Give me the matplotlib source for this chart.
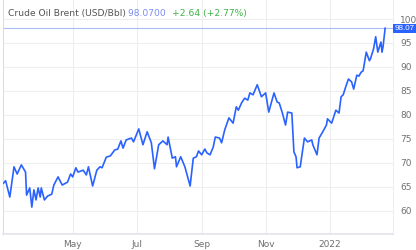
import matplotlib.pyplot as plt
import matplotlib.dates as mdates
import pandas as pd

# Brent crude, daily-ish closes
dates = [
    "2021-02-24", "2021-02-26", "2021-03-02", "2021-03-06", "2021-03-09", "2021-03-13",
    "2021-03-17", "2021-03-18", "2021-03-21", "2021-03-23", "2021-03-25", "2021-03-27",
    "2021-03-29", "2021-03-31", "2021-04-01", "2021-04-04", "2021-04-07", "2021-04-11",
    "2021-04-13", "2021-04-17", "2021-04-21", "2021-04-26", "2021-04-29", "2021-05-01",
    "2021-05-04", "2021-05-06", "2021-05-11", "2021-05-14", "2021-05-16", "2021-05-20",
    "2021-05-24", "2021-05-27", "2021-05-29", "2021-06-02", "2021-06-06", "2021-06-10",
    "2021-06-13", "2021-06-16", "2021-06-18", "2021-06-21", "2021-06-26", "2021-06-28",
    "2021-07-03", "2021-07-07", "2021-07-11", "2021-07-15", "2021-07-18", "2021-07-22",
    "2021-07-26", "2021-07-30", "2021-07-31", "2021-08-04", "2021-08-07", "2021-08-08",
    "2021-08-12", "2021-08-16", "2021-08-21", "2021-08-24", "2021-08-27", "2021-08-29",
    "2021-09-01", "2021-09-04", "2021-09-06", "2021-09-09", "2021-09-12", "2021-09-14",
    "2021-09-18", "2021-09-20", "2021-09-23", "2021-09-27", "2021-10-01", "2021-10-04",
    "2021-10-06", "2021-10-09", "2021-10-12", "2021-10-15", "2021-10-17", "2021-10-20",
    "2021-10-24", "2021-10-28", "2021-11-01", "2021-11-04", "2021-11-09", "2021-11-12",
    "2021-11-14", "2021-11-17", "2021-11-20", "2021-11-22", "2021-11-26", "2021-11-28",
    "2021-11-30", "2021-12-01", "2021-12-04", "2021-12-08", "2021-12-11", "2021-12-15",
    "2021-12-16", "2021-12-20", "2021-12-22", "2021-12-25", "2021-12-29", "2021-12-30",
    "2022-01-03", "2022-01-07", "2022-01-10", "2022-01-12", "2022-01-14", "2022-01-16",
    "2022-01-19", "2022-01-22", "2022-01-24", "2022-01-27", "2022-01-29", "2022-01-31",
    "2022-02-02", "2022-02-05", "2022-02-08", "2022-02-09", "2022-02-12", "2022-02-14",
    "2022-02-16", "2022-02-19", "2022-02-20", "2022-02-21", "2022-02-23",
]
prices = [
    65.8, 66.3, 62.9, 69.2, 67.7, 69.6,
    68.1, 63.3, 64.8, 60.8, 64.4, 62.3,
    64.8, 62.9, 64.8, 62.3, 63.1, 63.5,
    65.4, 67.1, 65.4, 66.0, 67.7, 67.1,
    69.0, 68.1, 68.5, 67.5, 69.2, 65.2,
    68.5, 69.2, 69.0, 71.2, 71.5, 72.7,
    72.9, 74.6, 73.1, 74.8, 75.2, 74.4,
    77.1, 73.8, 76.5, 74.2, 68.8, 73.8,
    74.6, 73.8, 75.4, 71.0, 71.3, 69.2,
    71.3, 69.2, 65.2, 71.0, 71.3, 72.5,
    71.7, 72.9, 72.1, 71.7, 73.3, 75.4,
    75.2, 74.2, 76.9, 79.4, 78.3, 81.7,
    81.0, 82.5, 83.5, 83.1, 84.6, 84.2,
    86.3, 83.8, 84.6, 80.6, 84.6, 82.7,
    82.5, 80.4, 77.9, 80.6, 80.4, 72.3,
    71.3, 69.0, 69.2, 75.2, 74.4, 74.8,
    73.8, 71.7, 75.2, 76.3, 77.9, 79.2,
    78.3, 81.0, 80.4, 83.8, 84.2, 85.6,
    87.5, 86.9, 85.4, 88.3, 88.1, 88.9,
    89.2, 93.1, 91.3, 91.7, 93.8, 96.3,
    93.1, 95.2, 93.1, 94.2, 98.07,
]
last_price = 98.07
change = 2.64
change_pct = 2.77
yticks = [60, 65, 70, 75, 80, 85, 90, 95, 100]

x = pd.to_datetime(dates)

fig = plt.figure(figsize=(4.16, 2.5), dpi=100)
ax = fig.add_axes([0.0072, 0.064, 0.9375, 0.936])

ax.plot(x, prices, color="#2962ff", lw=1.2, zorder=3)
ax.axhline(last_price, color="#a9bcf5", lw=0.8, zorder=2)

ax.set_xlim(pd.Timestamp("2021-02-23 12:00"), pd.Timestamp("2022-03-02 12:00"))
ax.set_ylim(55.2, 103.96)

# month ticks, year label on January
ax.xaxis.set_major_locator(mdates.MonthLocator(bymonth=[1, 5, 7, 9, 11]))
ax.xaxis.set_major_formatter(mdates.ConciseDateFormatter(
    ax.xaxis.get_major_locator(), formats=["%Y", "%b", "%d", "%H:%M", "%H:%M", "%S.%f"]))
ax.xaxis.get_major_formatter().offset_string = ""
ax.set_yticks(yticks)
ax.yaxis.tick_right()

ax.grid(True, color="#eeeeee", lw=0.8)
ax.tick_params(axis="both", length=0, labelsize=6.5, labelcolor="#707070")
ax.tick_params(axis="y", pad=5)
ax.tick_params(axis="x", pad=4)
ax.spines["top"].set_visible(False)
ax.spines["left"].set_color("#dddddd")
ax.spines["bottom"].set_color("#e3e3ea")
ax.spines["right"].set_color("#eeeeee")
ax.spines["bottom"].set_linewidth(1.2)

# header
t = ax.text(0.012, 0.942, "Crude Oil Brent (USD/Bbl) ", transform=ax.transAxes,
            fontsize=6.6, color="#555555", va="center", ha="left")
fig.canvas.draw()
bb = t.get_window_extent().transformed(ax.transAxes.inverted())
t2 = ax.text(bb.x1, 0.942, f"{last_price:.4f}  ", transform=ax.transAxes,
             fontsize=6.6, color="#7b8ef2", va="center", ha="left")
bb2 = t2.get_window_extent().transformed(ax.transAxes.inverted())
ax.text(bb2.x1, 0.942, f"+{change:.2f} (+{change_pct:.2f}%)", transform=ax.transAxes,
        fontsize=6.6, color="#3fb24a", va="center", ha="left")

# last price label on right axis
ax.annotate(f"{last_price:.2f}", xy=(1.0, last_price), xycoords=("axes fraction", "data"),
            xytext=(1, 0), textcoords="offset points", fontsize=5.8, color="white",
            family="Liberation Sans", va="center", ha="left", annotation_clip=False,
            bbox=dict(boxstyle="square,pad=0.15", fc="#2962ff", ec="none"))

fig.savefig("out.png", dpi=100)
